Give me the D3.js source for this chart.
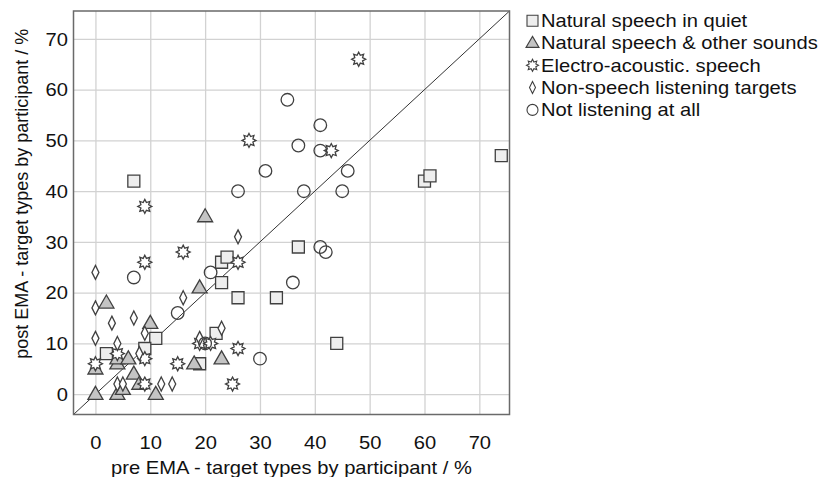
<!DOCTYPE html>
<html lang="en">
<head>
  <meta charset="UTF-8">
  <title>pre vs post EMA</title>
  <script src="https://cdn.jsdelivr.net/npm/d3@7"></script>
<style>
  body { margin: 0; background: #fff; }
  text { font-family: "Liberation Sans", Arial, sans-serif; fill: #111; }
</style>
</head>

<body>
  <script>
    // values, pre EMA (x) vs post EMA (y), in %
    var quietPre  = [7, 60, 61, 74, 37, 44, 23, 24, 23, 26, 33, 2, 11, 9, 22, 19];
    var quietPost = [42, 42, 43, 47, 29, 10, 26, 27, 22, 19, 19, 8, 11, 9, 12, 6];

    var mixedPre  = [0, 0, 2, 4, 4, 4, 5, 6, 7, 8, 10, 11, 18, 19, 20, 23];
    var mixedPost = [0, 5, 18, 0, 6, 7, 1, 7, 4, 2, 14, 0, 6, 21, 35, 7];

    var electroPre  = [48, 28, 43, 9, 9, 16, 26, 0, 4, 9, 9, 15, 19, 21, 26, 25];
    var electroPost = [66, 50, 48, 37, 26, 28, 26, 6, 8, 7, 2, 6, 10, 10, 9, 2];

    var nonSpeechPre  = [0, 0, 0, 3, 7, 4, 9, 8, 26, 16, 23, 19, 4, 5, 12, 14];
    var nonSpeechPost = [24, 17, 11, 14, 15, 10, 12, 8, 31, 19, 13, 11, 2, 2, 2, 2];

    var notListeningPre  = [35, 41, 37, 41, 31, 46, 26, 38, 45, 41, 42, 36, 7, 21, 15, 30, 20];
    var notListeningPost = [58, 53, 49, 48, 44, 44, 40, 40, 40, 29, 28, 22, 23, 24, 16, 7, 10];

    var seriesNames = ['Natural speech in quiet', 'Natural speech & other sounds',
                       'Electro-acoustic. speech', 'Non-speech listening targets',
                       'Not listening at all'];
    var xTicks = [0, 10, 20, 30, 40, 50, 60, 70];
    var yTicks = [0, 10, 20, 30, 40, 50, 60, 70];
    var domain = [-4, 75.5];

    var w = 828, h = 477;
    // careful: "top" is window.top, so plot edges get their own names
    var plotL = 73.5, plotR = 509.5, plotT = 11, plotB = 414.5;
    var stretch = 1.12; // the picture is a bit wider than tall, text too
    var ink = '#404040';

    var x = d3.scaleLinear().domain(domain).range([plotL, plotR]);
    var y = d3.scaleLinear().domain(domain).range([plotB, plotT]);

    var svg = d3.select('body')
                .append('svg')
                .attr('width', w)
                .attr('height', h);

    // marker paths, centred on 0,0
    function square(s) { var a = s / 2; return `M${-a},${-a}H${a}V${a}H${-a}Z`; }
    function triangle(wd, ht) { return `M0,${-ht * 0.6}L${wd / 2},${ht * 0.4}L${-wd / 2},${ht * 0.4}Z`; }
    function diamond(wd, ht) { return `M0,${-ht / 2}L${wd / 2},0L0,${ht / 2}L${-wd / 2},0Z`; }
    function circle(r) { return `M${r},0A${r},${r} 0 1,1 ${-r},0A${r},${r} 0 1,1 ${r},0Z`; }
    function star(ro, ri) {
      var p = [];
      for (var i = 0; i < 16; i++) {
        var a = i * Math.PI / 8 - Math.PI / 2, r = i % 2 ? ri : ro;
        p.push([r * Math.cos(a), r * Math.sin(a)]);
      }
      return 'M' + p.map(d => d.join(',')).join('L') + 'Z';
    }

    var series = [
      { pre: quietPre, post: quietPost, path: square(12), legend: square(11), fill: '#eeeeee' },
      { pre: mixedPre, post: mixedPost, path: triangle(15, 13), legend: triangle(13, 11), fill: '#c4c4c4' },
      { pre: electroPre, post: electroPost, path: star(7, 4.2), legend: star(6, 3.6), fill: '#ffffff' },
      { pre: nonSpeechPre, post: nonSpeechPost, path: diamond(7, 14), legend: diamond(6, 12), fill: '#ffffff' },
      { pre: notListeningPre, post: notListeningPost, path: circle(6.3), legend: circle(5.5), fill: 'none' }
    ];

    // grid via axes
    var gx = svg.append('g')
      .attr('transform', `translate(0,${plotB})`)
      .call(d3.axisBottom(x).tickValues(xTicks).tickSize(-(plotB - plotT)).tickSizeOuter(0));
    var gy = svg.append('g')
      .attr('transform', `translate(${plotL},0)`)
      .call(d3.axisLeft(y).tickValues(yTicks).tickSize(-(plotR - plotL)).tickSizeOuter(0));

    [gx, gy].forEach(function(g) {
      g.select('.domain').remove();
      g.selectAll('.tick line').attr('stroke', '#d2d2d2').attr('stroke-width', 1.3);
      g.selectAll('.tick text').attr('font-size', '18px').attr('fill', '#111');
    });
    gx.selectAll('.tick text')
      .attr('y', 0).attr('dy', 0)
      .attr('transform', `translate(0,34) scale(${stretch},1)`);
    gy.selectAll('.tick text')
      .attr('x', 0).attr('dy', '0.34em')
      .attr('transform', `translate(-5.5,0) scale(${stretch},1)`);

    // y = x reference line
    svg.append('line')
      .attr('x1', x(domain[0])).attr('y1', y(domain[0]))
      .attr('x2', x(domain[1])).attr('y2', y(domain[1]))
      .attr('stroke', '#333')
      .attr('stroke-width', 1);

    // plot frame
    svg.append('rect')
      .attr('x', plotL).attr('y', plotT)
      .attr('width', plotR - plotL).attr('height', plotB - plotT)
      .attr('fill', 'none')
      .attr('stroke', '#6a6a6a')
      .attr('stroke-width', 1.5);

    // markers
    series.forEach(function(s) {
      svg.append('g').selectAll('path')
        .data(s.pre.map((d, i) => [d, s.post[i]]))
        .enter()
        .append('path')
        .attr('d', s.path)
        .attr('transform', d => `translate(${x(d[0])},${y(d[1])})`)
        .attr('fill', s.fill)
        .attr('stroke', ink)
        .attr('stroke-width', 1.3);
    });

    // legend
    var legend = svg.append('g').selectAll('g')
      .data(series)
      .enter()
      .append('g')
      .attr('transform', (d, i) => `translate(532.5,${27 + i * 22.3})`);

    legend.append('path')
      .attr('d', d => d.legend)
      .attr('transform', 'translate(0,-6.3)')
      .attr('fill', d => d.fill)
      .attr('stroke', ink)
      .attr('stroke-width', 1.1);

    legend.append('text')
      .text((d, i) => seriesNames[i])
      .attr('font-size', '18px')
      .attr('transform', `translate(8.5,0) scale(${stretch},1)`);

    // axis titles
    svg.append('text')
      .text('pre EMA - target types by participant / %')
      .attr('font-size', '18px')
      .attr('text-anchor', 'middle')
      .attr('transform', `translate(${(plotL + plotR) / 2},474) scale(${stretch},1)`);

    svg.append('text')
      .text('post EMA - target types by participant / %')
      .attr('font-size', '18px')
      .attr('text-anchor', 'middle')
      .attr('transform', `translate(28,${(plotT + plotB) / 2 - 19}) rotate(-90)`);
  </script>
</body>
</html>
